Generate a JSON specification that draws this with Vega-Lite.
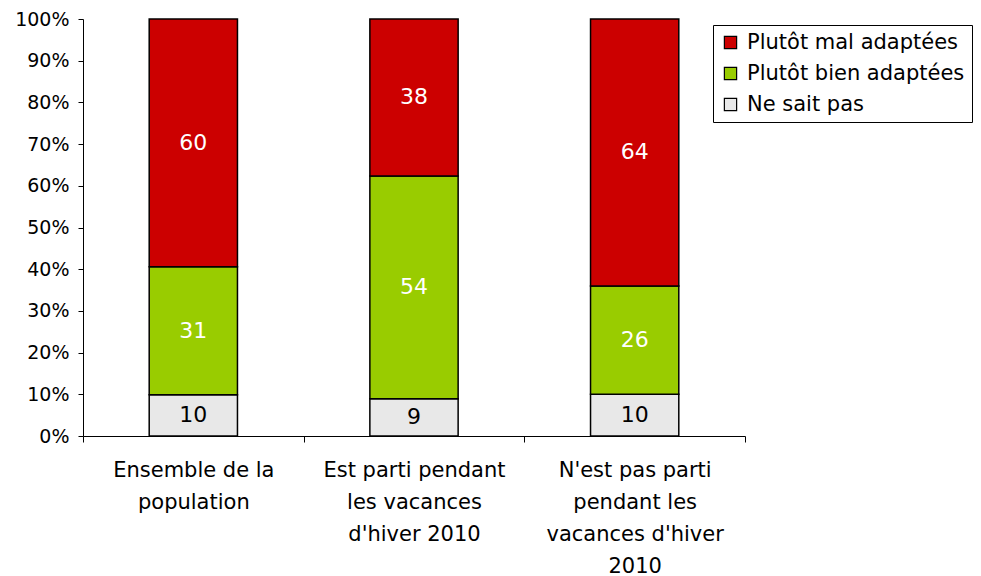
{
  "$schema": "https://vega.github.io/schema/vega-lite/v6.json",
  "width": 662,
  "height": 417,
  "autosize": {"type": "none"},
  "padding": {"left": 83, "top": 19, "right": 236, "bottom": 140},
  "background": "white",
  "config": {
    "view": {"stroke": null},
    "font": "DejaVu Sans",
    "axis": {"labelFont": "DejaVu Sans", "labelColor": "black", "domainColor": "black", "tickColor": "black", "grid": false}
  },
  "data": {
    "values": [
      {"cat": "Ensemble de la|population", "serie": "Ne sait pas", "value": 10, "order": 1},
      {"cat": "Ensemble de la|population", "serie": "Plutôt bien adaptées", "value": 31, "order": 2},
      {"cat": "Ensemble de la|population", "serie": "Plutôt mal adaptées", "value": 60, "order": 3},
      {"cat": "Est parti pendant|les vacances|d'hiver 2010", "serie": "Ne sait pas", "value": 9, "order": 1},
      {"cat": "Est parti pendant|les vacances|d'hiver 2010", "serie": "Plutôt bien adaptées", "value": 54, "order": 2},
      {"cat": "Est parti pendant|les vacances|d'hiver 2010", "serie": "Plutôt mal adaptées", "value": 38, "order": 3},
      {"cat": "N'est pas parti|pendant les|vacances d'hiver|2010", "serie": "Ne sait pas", "value": 10, "order": 1},
      {"cat": "N'est pas parti|pendant les|vacances d'hiver|2010", "serie": "Plutôt bien adaptées", "value": 26, "order": 2},
      {"cat": "N'est pas parti|pendant les|vacances d'hiver|2010", "serie": "Plutôt mal adaptées", "value": 64, "order": 3}
    ]
  },
  "transform": [
    {"stack": "value", "groupby": ["cat"], "sort": [{"field": "order", "order": "ascending"}], "as": ["v0", "v1"], "offset": "normalize"},
    {"calculate": "(datum.v0 + datum.v1) / 2", "as": "mid"}
  ],
  "encoding": {
    "x": {
      "field": "cat", "type": "nominal",
      "sort": ["Ensemble de la|population", "Est parti pendant|les vacances|d'hiver 2010", "N'est pas parti|pendant les|vacances d'hiver|2010"],
      "scale": {"paddingInner": 0, "paddingOuter": 0},
      "axis": {"title": null, "labelAngle": 0, "labelExpr": "datum.value ? split(datum.value, '|') : ''", "tickBand": "extent", "tickSize": 6, "labelPadding": 17, "labelFontSize": 21, "labelLineHeight": 32, "labelLimit": 300}
    }
  },
  "layer": [
    {
      "mark": {"type": "bar", "stroke": "black", "strokeWidth": 1.5, "width": {"band": 0.4}},
      "encoding": {
        "y": {"field": "v0", "type": "quantitative", "scale": {"domain": [0, 1], "nice": false},
          "axis": {"title": null, "format": ".0%", "values": [0, 0.1, 0.2, 0.3, 0.4, 0.5, 0.6, 0.7, 0.8, 0.9, 1], "tickSize": 5, "labelPadding": 9, "labelFontSize": 19}},
        "y2": {"field": "v1"},
        "color": {
          "field": "serie", "type": "nominal",
          "scale": {"domain": ["Plutôt mal adaptées", "Plutôt bien adaptées", "Ne sait pas"], "range": ["#CC0000", "#99CC00", "#E8E8E8"]},
          "legend": {"title": null, "orient": "none", "legendX": 630, "legendY": 6, "strokeColor": "black", "fillColor": "white", "padding": 7, "symbolType": "square", "symbolSize": 150, "symbolStrokeColor": "black", "symbolStrokeWidth": 1.2, "symbolOpacity": 1, "labelFontSize": 21, "labelFont": "DejaVu Sans", "labelColor": "black", "rowPadding": 9, "labelOffset": 6, "labelLimit": 400}
        }
      }
    },
    {
      "mark": {"type": "text", "fontSize": 22, "baseline": "middle", "align": "center"},
      "encoding": {
        "y": {"field": "mid", "type": "quantitative"},
        "text": {"field": "value", "type": "quantitative"},
        "color": {"condition": {"test": "datum.serie === 'Ne sait pas'", "value": "black"}, "value": "white"}
      }
    }
  ]
}
